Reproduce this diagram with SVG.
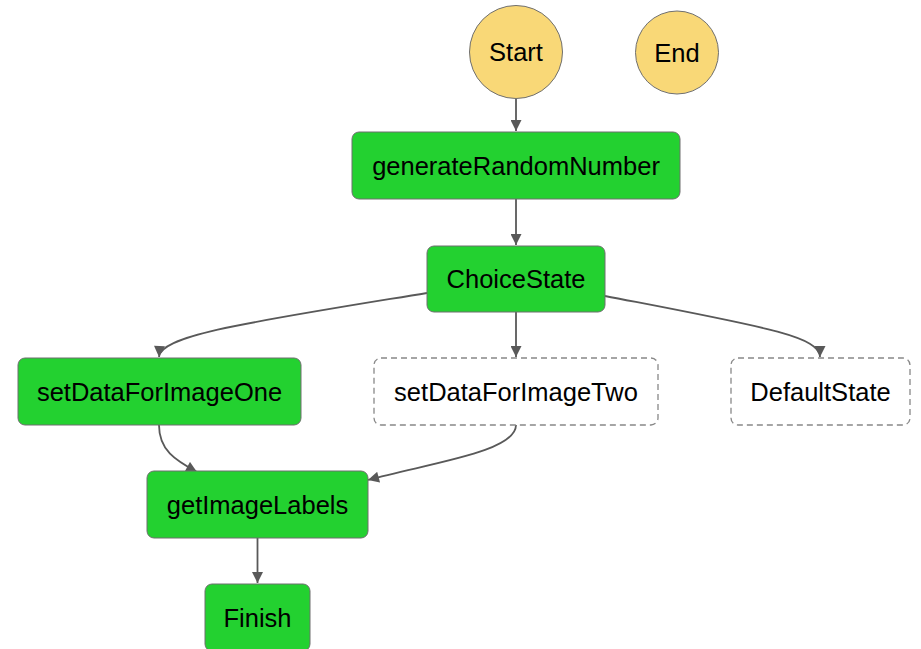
<svg xmlns="http://www.w3.org/2000/svg" width="921" height="649" viewBox="0 0 921 649">
<defs>
<style>
.task{fill:#23d130;stroke:#6f6f6f;stroke-width:1}
.dash{fill:#ffffff;stroke:#888888;stroke-width:1.3;stroke-dasharray:6 4}
.term{fill:#f9d877;stroke:#6f6f6f;stroke-width:1}
.lbl{font-family:"Liberation Sans",Arial,Helvetica,sans-serif;font-size:25.5px;fill:#000;text-anchor:middle}
.edge{fill:none;stroke:#595959;stroke-width:1.8}
</style>
<marker id="arr" viewBox="0 0 10 10" refX="10" refY="5" markerWidth="12" markerHeight="11" orient="auto" markerUnits="userSpaceOnUse">
<path d="M0,0 L10,5 L0,10 z" fill="#595959"/>
</marker>
</defs>
<rect width="921" height="649" fill="#ffffff"/>
<g id="connectors">
<path class="edge" d="M516,99 L516,131" marker-end="url(#arr)"/>
<path class="edge" d="M516,199 L516,245" marker-end="url(#arr)"/>
<path class="edge" d="M427,293 C250,322 160,335 159,357" marker-end="url(#arr)"/>
<path class="edge" d="M516,312 L516,357" marker-end="url(#arr)"/>
<path class="edge" d="M605,296 C760,326 820,336 820,357" marker-end="url(#arr)"/>
<path class="edge" d="M159,425 C159,450 175,460 197,472" marker-end="url(#arr)"/>
<path class="edge" d="M516,425 C516,452 430,463 368,480" marker-end="url(#arr)"/>
<path class="edge" d="M257.5,538 L257.5,583" marker-end="url(#arr)"/>
</g>
<g id="Start"><circle class="term" cx="516" cy="52" r="46.5"/><text class="lbl" x="516" y="61">Start</text></g>
<g id="End"><circle class="term" cx="677" cy="52.5" r="41.5"/><text class="lbl" x="677" y="61.5">End</text></g>
<g id="generateRandomNumber"><rect class="task" x="352" y="132" width="328" height="67" rx="7"/><text class="lbl" x="516" y="174.5">generateRandomNumber</text></g>
<g id="ChoiceState"><rect class="task" x="427" y="246" width="178" height="66" rx="7"/><text class="lbl" x="516" y="288">ChoiceState</text></g>
<g id="setDataForImageOne"><rect class="task" x="18" y="358" width="283" height="67" rx="7"/><text class="lbl" x="159.5" y="400.5">setDataForImageOne</text></g>
<g id="setDataForImageTwo"><rect class="dash" x="374" y="358" width="284" height="67" rx="7"/><text class="lbl" x="516" y="400.5">setDataForImageTwo</text></g>
<g id="DefaultState"><rect class="dash" x="731" y="358" width="179" height="67" rx="7"/><text class="lbl" x="820.5" y="400.5">DefaultState</text></g>
<g id="getImageLabels"><rect class="task" x="147" y="471" width="221" height="67" rx="7"/><text class="lbl" x="257.5" y="513.5">getImageLabels</text></g>
<g id="Finish"><rect class="task" x="205" y="584" width="105" height="67" rx="7"/><text class="lbl" x="257.5" y="626.5">Finish</text></g>
</svg>
